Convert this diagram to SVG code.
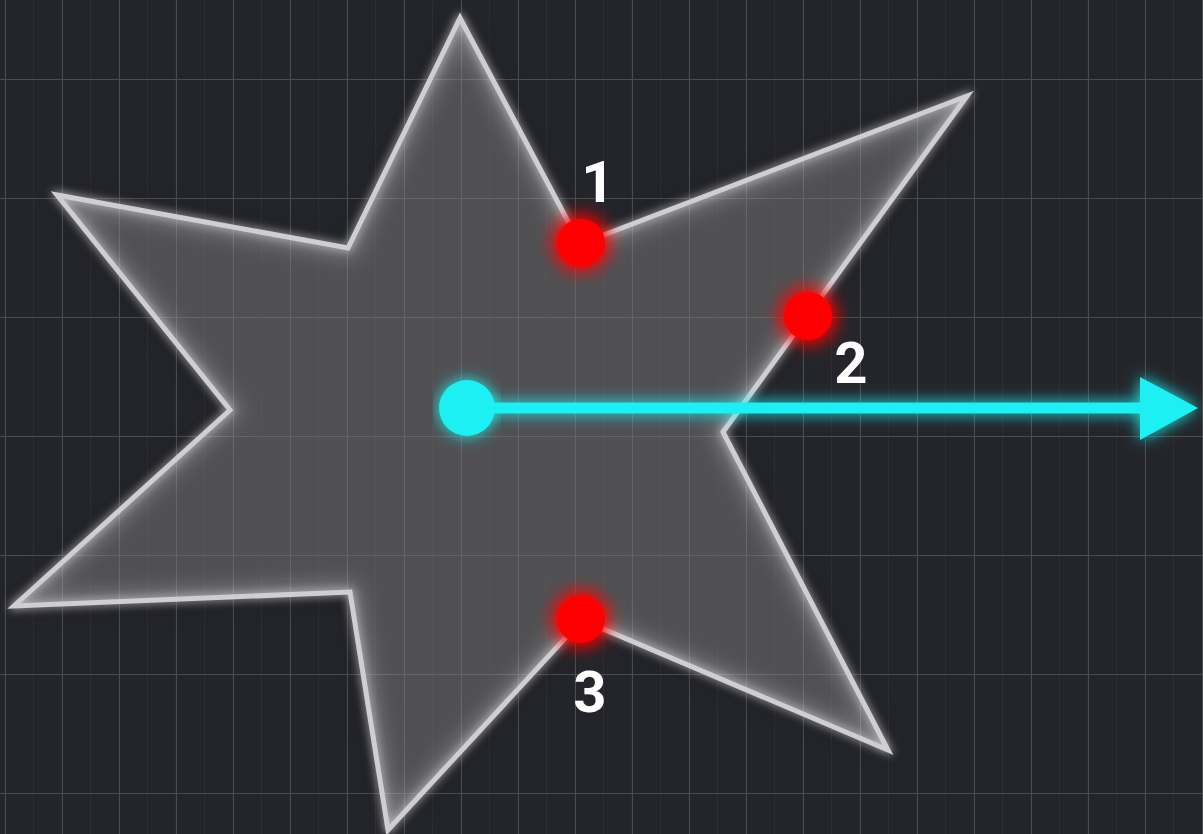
<svg xmlns="http://www.w3.org/2000/svg" width="1203" height="834" viewBox="0 0 1203 834">
  <defs>
    <pattern id="gridMinor" x="33" y="20" width="28.5" height="119" patternUnits="userSpaceOnUse">
      <path d="M0 0V119" fill="none" stroke="#34353a" stroke-width="1"/>
    </pattern>
    <pattern id="gridMajor" x="5" y="79" width="57" height="119" patternUnits="userSpaceOnUse">
      <path d="M0 0V119M0 0H57" fill="none" stroke="#4b4c51" stroke-width="2"/>
    </pattern>
    <filter id="glowWhite" x="-20%" y="-20%" width="140%" height="140%">
      <feGaussianBlur in="SourceGraphic" stdDeviation="5" result="b"/>
      <feMerge><feMergeNode in="b"/><feMergeNode in="SourceGraphic"/></feMerge>
    </filter>
    <filter id="innerGlow" x="-20%" y="-20%" width="140%" height="140%">
      <feGaussianBlur in="SourceGraphic" stdDeviation="10"/>
    </filter>
    <clipPath id="starClip">
      <polygon points="460,18 580,244 967,96 723,432 888,750 582,620 388,830 350,592 14,606 230,410 57,195 348,248"/>
    </clipPath>
    <filter id="glowRed" x="-150%" y="-150%" width="400%" height="400%">
      <feGaussianBlur in="SourceGraphic" stdDeviation="10" result="b"/>
      <feMerge><feMergeNode in="b"/><feMergeNode in="b"/><feMergeNode in="SourceGraphic"/></feMerge>
    </filter>
    <filter id="glowCyan" x="-10%" y="-100%" width="120%" height="300%">
      <feGaussianBlur in="SourceGraphic" stdDeviation="8" result="b"/>
      <feMerge><feMergeNode in="b"/><feMergeNode in="SourceGraphic"/></feMerge>
    </filter>
    <filter id="shadow" x="-20%" y="-20%" width="140%" height="140%">
      <feGaussianBlur stdDeviation="14"/>
    </filter>
  </defs>
  <style>
    .lbl { font-family: Roboto, "Liberation Sans", sans-serif; font-weight: 700; font-size: 58px; fill: #ffffff; text-anchor: middle; }
    .dot { fill: #ff0000; filter: url(#glowRed); }
  </style>
  <rect width="1203" height="834" fill="#24252a"/>
  <rect width="1203" height="834" fill="url(#gridMinor)"/>
  <rect width="1203" height="834" fill="url(#gridMajor)"/>

  <g id="star">
    <polygon points="460,18 580,244 967,96 723,432 888,750 582,620 388,830 350,592 14,606 230,410 57,195 348,248" fill="#000" opacity="0.3" filter="url(#shadow)"/>
    <polygon points="460,18 580,244 967,96 723,432 888,750 582,620 388,830 350,592 14,606 230,410 57,195 348,248" fill="#ffffff" fill-opacity="0.24"/>
    <g clip-path="url(#starClip)">
      <polygon points="460,18 580,244 967,96 723,432 888,750 582,620 388,830 350,592 14,606 230,410 57,195 348,248" fill="none" stroke="#ffffff" stroke-opacity="0.18" stroke-width="24" filter="url(#innerGlow)"/>
    </g>
    <polygon points="460,18 580,244 967,96 723,432 888,750 582,620 388,830 350,592 14,606 230,410 57,195 348,248" fill="none" stroke="#cfcfd2" stroke-width="5" stroke-linejoin="miter" filter="url(#glowWhite)"/>
  </g>

  <g id="connectors">
    <g id="ray" filter="url(#glowCyan)">
      <line x1="467" y1="408" x2="1145" y2="408" stroke="#1ff0f2" stroke-width="11"/>
      <polygon points="1140,377 1198,408 1140,440" fill="#1ff0f2"/>
    </g>
  </g>

  <g id="origin">
    <circle cx="467" cy="408" r="28" fill="#1ff0f2" filter="url(#glowCyan)"/>
  </g>

  <g id="p1">
    <circle class="dot" cx="581" cy="243" r="24"/>
    <text class="lbl" x="598" y="202">1</text>
  </g>
  <g id="p2">
    <circle class="dot" cx="808" cy="316" r="24"/>
    <text class="lbl" x="851" y="383">2</text>
  </g>
  <g id="p3">
    <circle class="dot" cx="581" cy="619" r="24"/>
    <text class="lbl" x="590" y="712">3</text>
  </g>
</svg>
